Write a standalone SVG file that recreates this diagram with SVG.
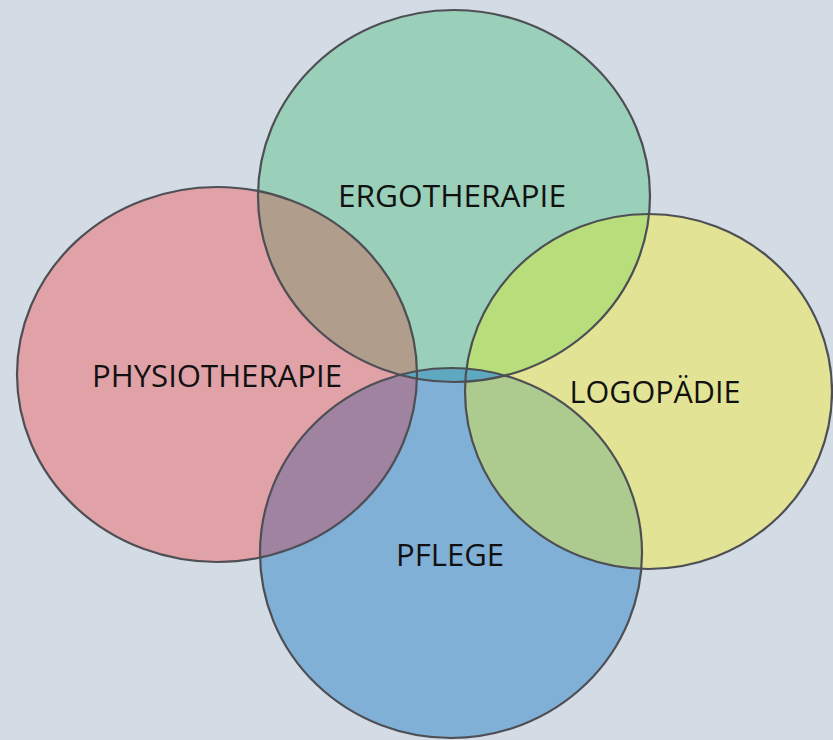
<svg xmlns="http://www.w3.org/2000/svg" width="833" height="740" viewBox="0 0 833 740">
<style>
.lbl{font-family:"Open Sans","Liberation Sans",sans-serif;font-size:31px;fill:#111;text-anchor:middle}
.edge{fill:none;stroke:#4d4f55;stroke-width:2.2}
</style>
<defs>
<ellipse id="eT" cx="454" cy="196" rx="196" ry="186"/>
<ellipse id="eL" cx="217" cy="374.5" rx="200" ry="187.5"/>
<ellipse id="eR" cx="648.5" cy="391.5" rx="183.5" ry="177.5"/>
<ellipse id="eB" cx="451" cy="553" rx="191" ry="185"/>
<clipPath id="cT"><use href="#eT"/></clipPath>
<clipPath id="cL"><use href="#eL"/></clipPath>
<clipPath id="cR"><use href="#eR"/></clipPath>
<clipPath id="cB"><use href="#eB"/></clipPath>
</defs>
<rect width="833" height="740" fill="#d3dce4"/>
<g id="ergotherapie"><use href="#eT" fill="#9acfb9"/></g>
<g id="physiotherapie"><use href="#eL" fill="#e0a1a7"/></g>
<g id="logopaedie"><use href="#eR" fill="#e2e394"/></g>
<g id="pflege"><use href="#eB" fill="#80b0d6"/></g>
<g id="overlaps">
<use href="#eL" fill="#b19d8b" clip-path="url(#cT)"/>
<use href="#eR" fill="#b8de7c" clip-path="url(#cT)"/>
<use href="#eB" fill="#a083a0" clip-path="url(#cL)"/>
<use href="#eB" fill="#aecb8f" clip-path="url(#cR)"/>
<use href="#eB" fill="#5fa9c0" clip-path="url(#cT)"/>
</g>
<g id="outlines">
<use href="#eT" class="edge"/>
<use href="#eL" class="edge"/>
<use href="#eR" class="edge"/>
<use href="#eB" class="edge"/>
</g>
<g id="labels">
<text class="lbl" x="452" y="207" textLength="228" lengthAdjust="spacingAndGlyphs">ERGOTHERAPIE</text>
<text class="lbl" x="217" y="387" textLength="250" lengthAdjust="spacingAndGlyphs">PHYSIOTHERAPIE</text>
<text class="lbl" x="655" y="403" textLength="171" lengthAdjust="spacingAndGlyphs">LOGOPÄDIE</text>
<text class="lbl" x="450" y="566" textLength="108" lengthAdjust="spacingAndGlyphs">PFLEGE</text>
</g>
</svg>
